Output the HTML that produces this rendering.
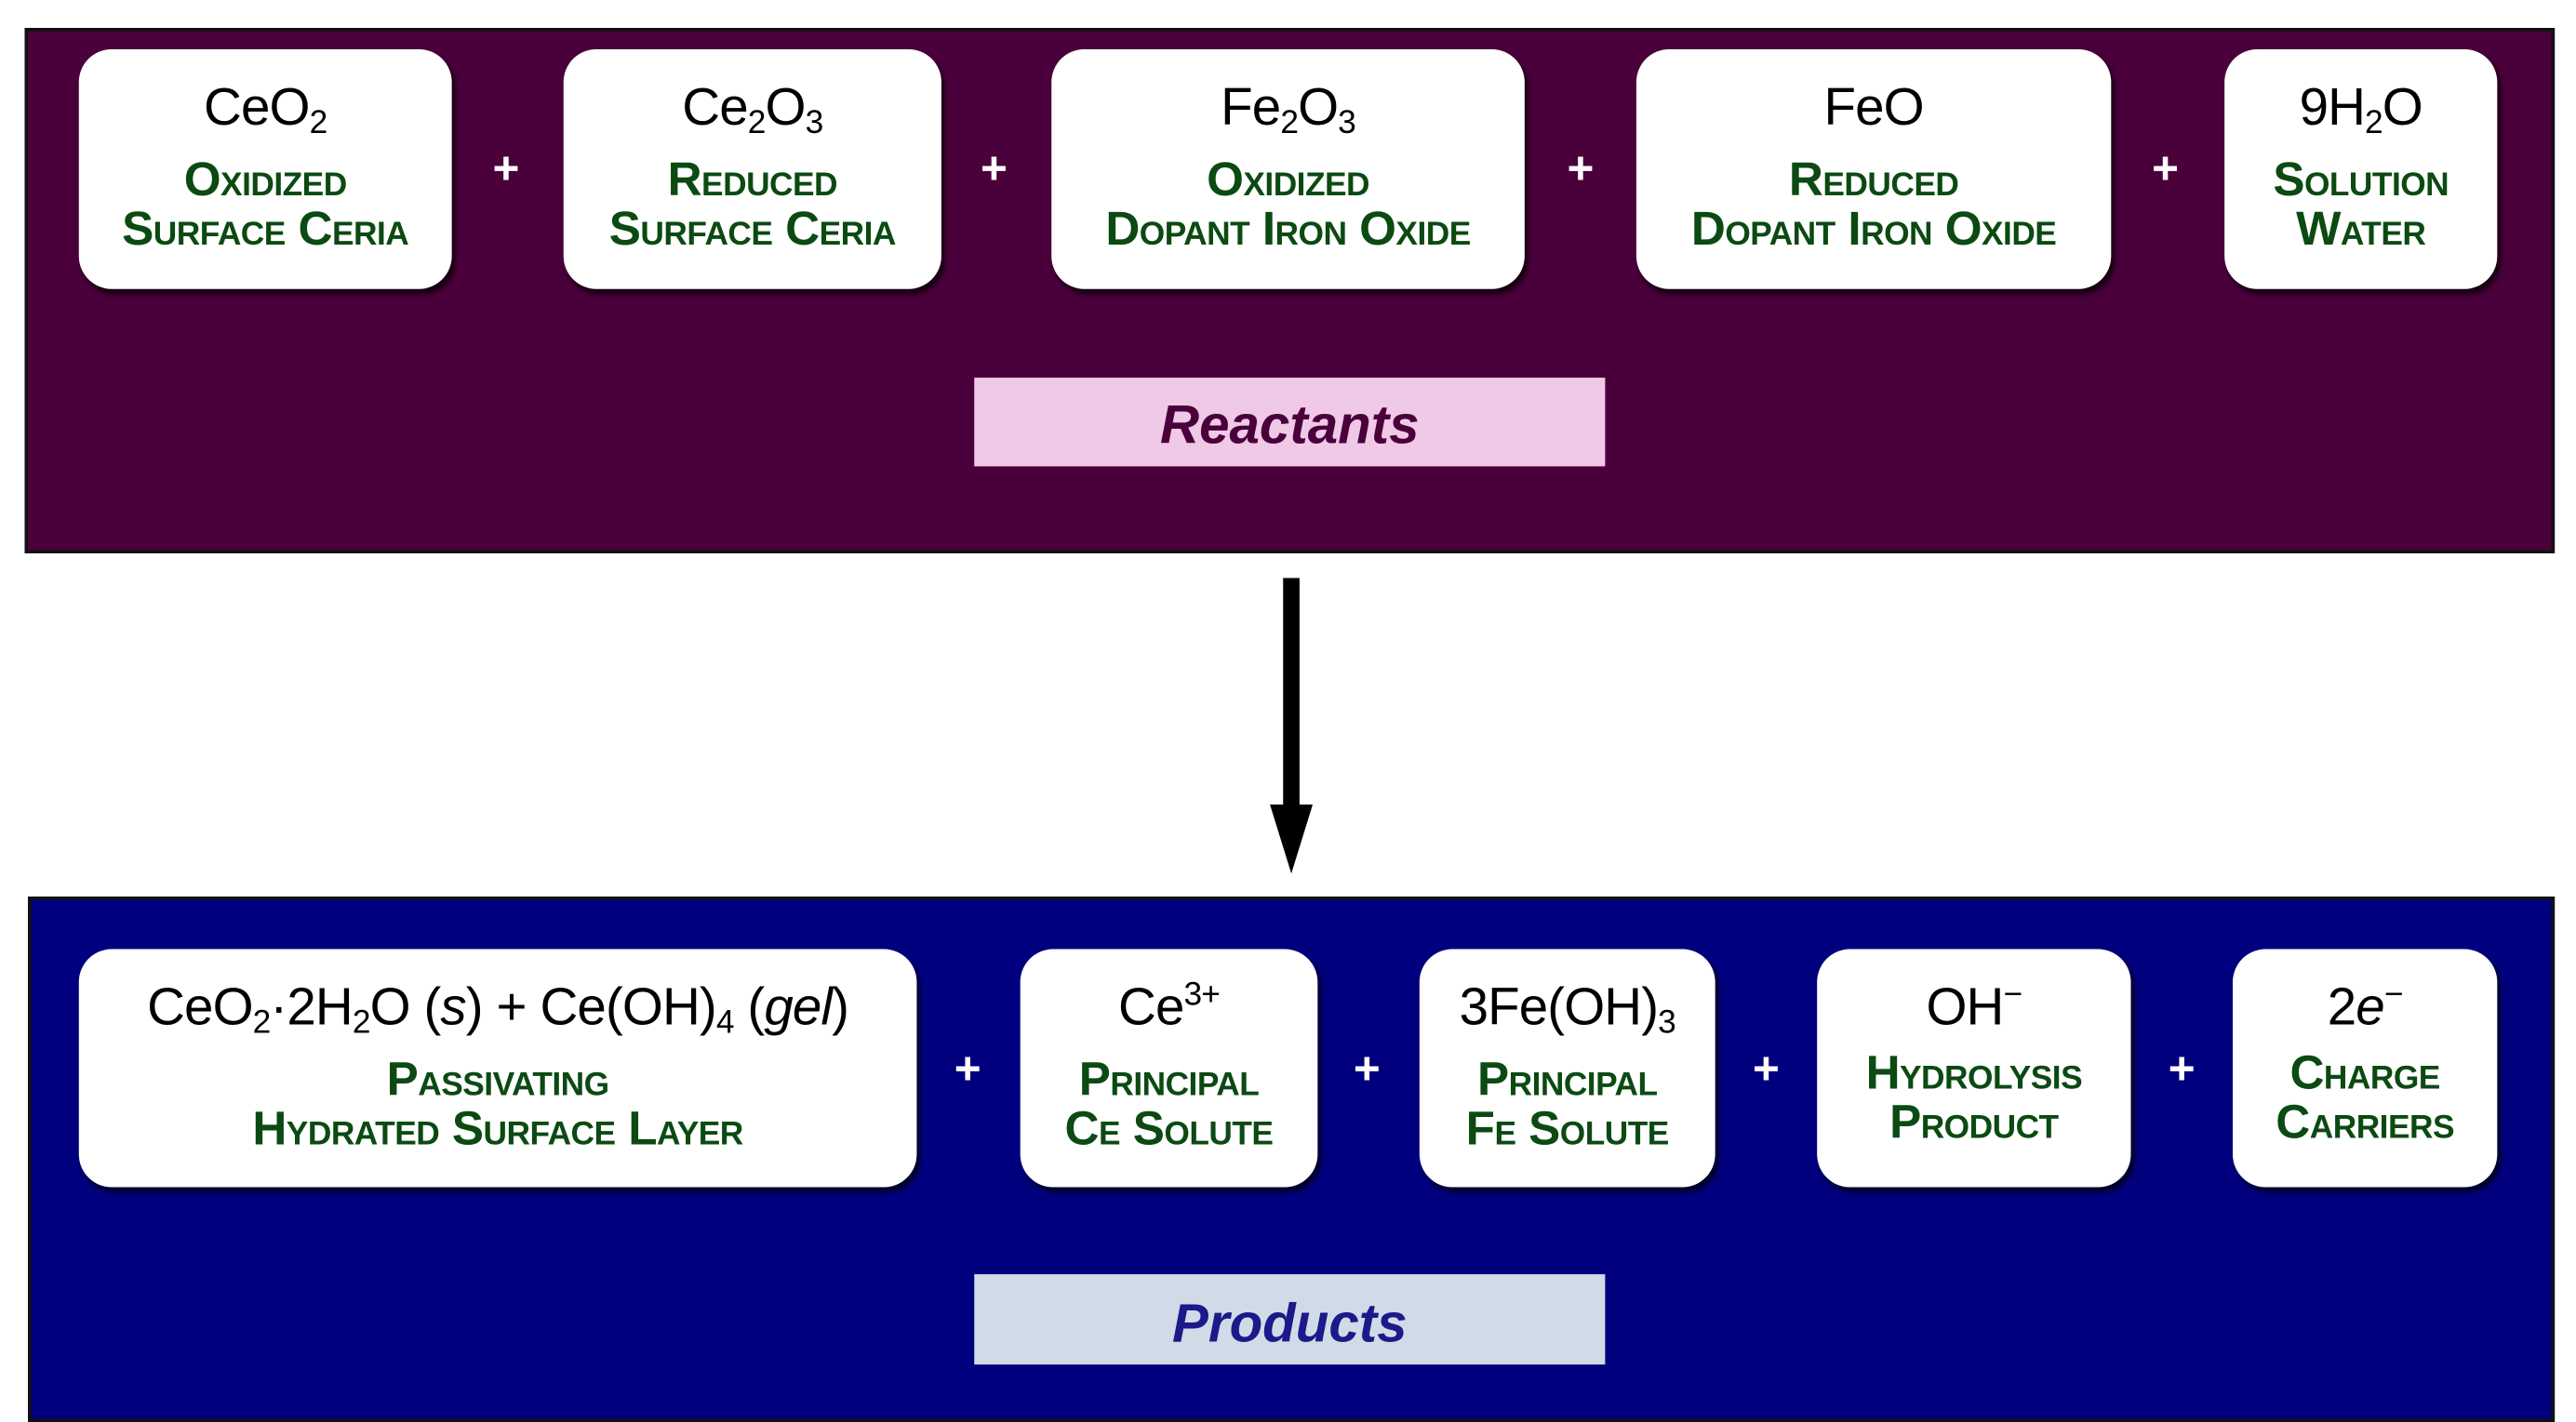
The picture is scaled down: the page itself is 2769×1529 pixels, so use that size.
<!DOCTYPE html>
<html><head><meta charset="utf-8"><style>
html,body{margin:0;padding:0;background:#fff;width:2769px;height:1529px;overflow:hidden}
#s{position:absolute;left:0;top:0;width:1568px;height:866px;transform:scale(1.766,1.7656);transform-origin:0 0;font-family:"Liberation Sans",sans-serif}
.p{position:absolute;border:2px solid #111;box-sizing:border-box}
.b{position:absolute;background:#fff;border-radius:20px;box-shadow:2px 3px 3px rgba(0,0,0,.7);text-align:center;box-sizing:border-box}
.f{font-size:32px;color:#000;margin-top:17px;line-height:36px;white-space:nowrap;letter-spacing:-0.5px}
.f sub{font-size:20px;vertical-align:-5px;line-height:0}
.f sup{font-size:20px;vertical-align:12px;line-height:0}
.l{font-size:29px;font-weight:bold;color:#0b4a12;font-variant:small-caps;line-height:30px;margin-top:12px;white-space:nowrap;letter-spacing:-0.3px}
.pl{position:absolute;color:#fff;font-size:28px;font-weight:bold;transform:translate(-50%,-50%);font-family:"Liberation Sans",sans-serif}
.t{position:absolute;text-align:center;font-family:"Liberation Sans",sans-serif;font-weight:bold;font-style:italic;font-size:33px}
</style></head><body><div id="s">
<div class="p" style="left:15px;top:17px;width:1540px;height:320px;background:#4a003b"></div>
<div class="b" style="left:48px;top:30px;width:227px;height:146px"><div class="f">CeO<sub>2</sub></div><div class="l">Oxidized<br>Surface Ceria</div></div>
<div class="b" style="left:343px;top:30px;width:230px;height:146px"><div class="f">Ce<sub>2</sub>O<sub>3</sub></div><div class="l">Reduced<br>Surface Ceria</div></div>
<div class="b" style="left:640px;top:30px;width:288px;height:146px"><div class="f">Fe<sub>2</sub>O<sub>3</sub></div><div class="l">Oxidized<br>Dopant Iron Oxide</div></div>
<div class="b" style="left:996px;top:30px;width:289px;height:146px"><div class="f">FeO</div><div class="l">Reduced<br>Dopant Iron Oxide</div></div>
<div class="b" style="left:1354px;top:30px;width:166px;height:146px"><div class="f">9H<sub>2</sub>O</div><div class="l">Solution<br>Water</div></div>
<div class="pl" style="left:308px;top:103px">+</div><div class="pl" style="left:605px;top:103px">+</div><div class="pl" style="left:962px;top:103px">+</div><div class="pl" style="left:1318px;top:103px">+</div>
<div class="t" style="left:593px;top:230px;width:384px;height:54px;line-height:58px;background:#f0c9e7;color:#4a003b">Reactants</div>
<div style="position:absolute;left:781px;top:352px;width:10px;height:140px;background:#000"></div>
<div style="position:absolute;left:773px;top:490px;width:0;height:0;border-left:13px solid transparent;border-right:13px solid transparent;border-top:42px solid #000"></div>
<div class="p" style="left:17px;top:546px;width:1538px;height:320px;background:#00007f"></div>
<div class="b" style="left:48px;top:578px;width:510px;height:145px"><div class="f">CeO<sub>2</sub>·2H<sub>2</sub>O (<i>s</i>) + Ce(OH)<sub>4</sub> (<i>gel</i>)</div><div class="l">Passivating<br>Hydrated Surface Layer</div></div>
<div class="b" style="left:621px;top:578px;width:181px;height:145px"><div class="f">Ce<sup>3+</sup></div><div class="l">Principal<br>Ce Solute</div></div>
<div class="b" style="left:864px;top:578px;width:180px;height:145px"><div class="f">3Fe(OH)<sub>3</sub></div><div class="l">Principal<br>Fe Solute</div></div>
<div class="b" style="left:1106px;top:578px;width:191px;height:145px"><div class="f">OH<sup>−</sup></div><div class="l" style="margin-top:8px">Hydrolysis<br>Product</div></div>
<div class="b" style="left:1359px;top:578px;width:161px;height:145px"><div class="f">2<i>e</i><sup>−</sup></div><div class="l" style="margin-top:8px">Charge<br>Carriers</div></div>
<div class="pl" style="left:589px;top:651px">+</div><div class="pl" style="left:832px;top:651px">+</div><div class="pl" style="left:1075px;top:651px">+</div><div class="pl" style="left:1328px;top:651px">+</div>
<div class="t" style="left:593px;top:776px;width:384px;height:55px;line-height:59px;background:#d0dbe7;color:#1a1a8a">Products</div>
</div></body></html>
